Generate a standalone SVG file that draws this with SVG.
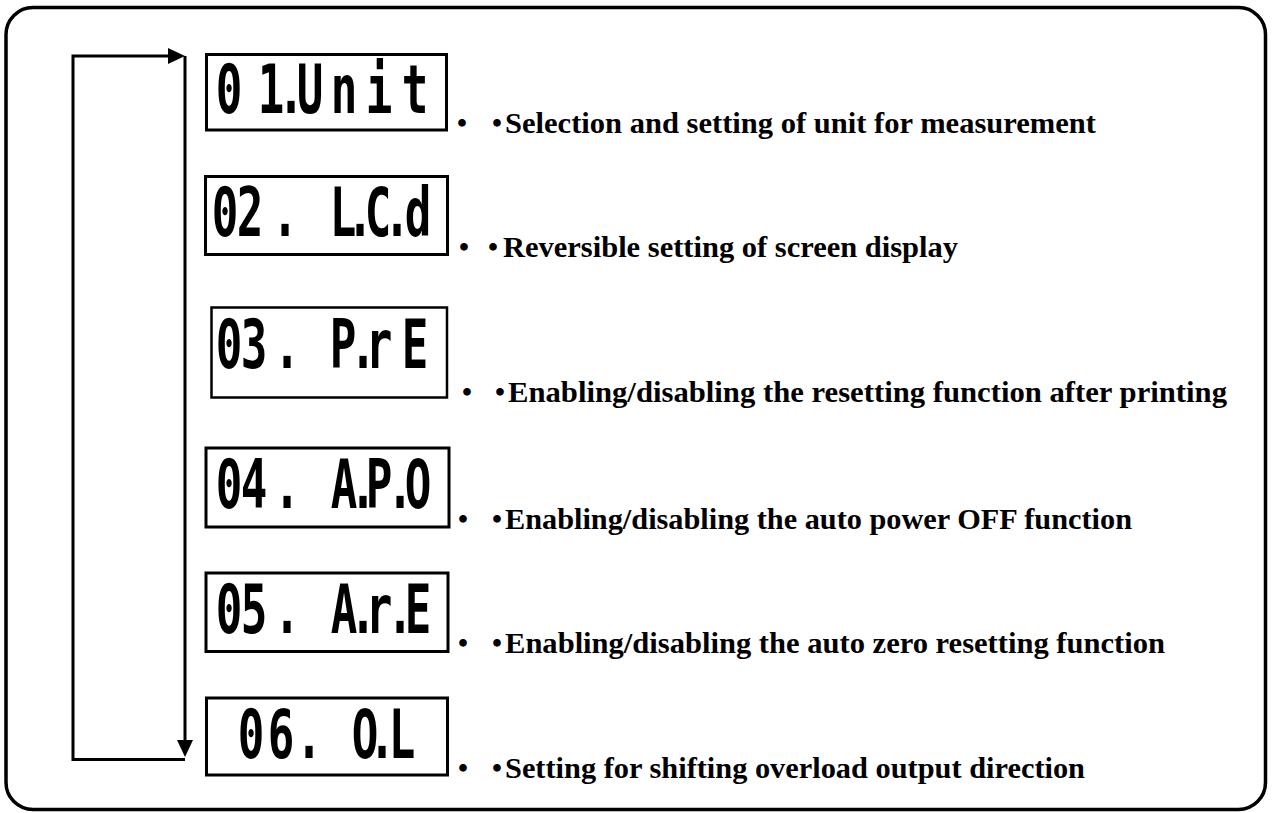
<svg xmlns="http://www.w3.org/2000/svg" width="1272" height="813" viewBox="0 0 1272 813">
<defs>
<style>
.frame{fill:none;stroke:#000;stroke-width:3.5}
.lcdbox{fill:#fff;stroke:#000;stroke-width:3}
.lcd{font-family:"DejaVu Sans Mono","Liberation Mono",monospace;font-weight:bold;font-size:68px;fill:#000;text-anchor:middle}
.desc{font-family:"Liberation Serif","Times New Roman",serif;font-weight:bold;font-size:30px;fill:#000}
.dot{font-family:"Noto Sans CJK JP",sans-serif;font-size:36px;fill:#000;text-anchor:middle}
.conn{fill:none;stroke:#000;stroke-width:3;stroke-linejoin:miter}
</style>
<marker id="ah" markerUnits="userSpaceOnUse" markerWidth="17" markerHeight="16" refX="0" refY="8" orient="auto" viewBox="0 0 17 16"><path d="M0,0 L17,8 L0,16 z" fill="#000"/></marker>
</defs>
<rect width="1272" height="813" fill="#fff"/>
<rect id="frame" class="frame" x="6" y="7.5" width="1259.5" height="802" rx="27" ry="27"/>

<g id="connectors">
<path class="conn" d="M185,759.5 H73 V56 H168" marker-end="url(#ah)"/>
<path class="conn" d="M185,56 V740" marker-end="url(#ah)"/>
</g>

<g id="n01">
<rect class="lcdbox" x="206.5" y="54.5" width="240" height="75.5"/>
<text class="lcd" transform="scale(0.65 1)" x="352.3 416.9 447.7 476.9 529.2 583.1 638.5" y="113">01.Unit</text>
<text class="dot" x="462 497" y="136.5">・・</text>
<text class="desc" x="505" y="133" textLength="591" lengthAdjust="spacingAndGlyphs">Selection and setting of unit for measurement</text>
</g>

<g id="n02">
<rect class="lcdbox" x="205.5" y="176.5" width="242" height="78"/>
<text class="lcd" transform="scale(0.65 1)" x="346.2 384.6 438.5 484.6 527.7 553.8 581.5 610.8 643.1" y="236">02. L.C.d</text>
<text class="dot" x="464 493" y="260.5">・・</text>
<text class="desc" x="503" y="257" textLength="455" lengthAdjust="spacingAndGlyphs">Reversible setting of screen display</text>
</g>

<g id="n03">
<rect class="lcdbox" x="211.5" y="307.5" width="235.5" height="90" style="stroke-width:2.5"/>
<text class="lcd" transform="scale(0.65 1)" x="352.3 390.8 441.5 484.6 527.7 558.5 583.1 638.5" y="368">03. P.rE</text>
<text class="dot" x="467 500" y="405.5">・・</text>
<text class="desc" x="508" y="402" textLength="719" lengthAdjust="spacingAndGlyphs">Enabling/disabling the resetting function after printing</text>
</g>

<g id="n04">
<rect class="lcdbox" x="206" y="448" width="243" height="79"/>
<text class="lcd" transform="scale(0.65 1)" x="352.3 390.8 441.5 484.6 529.2 558.5 583.1 615.4 643.1" y="508">04. A.P.O</text>
<text class="dot" x="463 497" y="532.5">・・</text>
<text class="desc" x="505" y="529" textLength="627" lengthAdjust="spacingAndGlyphs">Enabling/disabling the auto power OFF function</text>
</g>

<g id="n05">
<rect class="lcdbox" x="206" y="573" width="242" height="78.5"/>
<text class="lcd" transform="scale(0.65 1)" x="352.3 390.8 441.5 484.6 529.2 558.5 583.1 615.4 643.1" y="633">05. A.r.E</text>
<text class="dot" x="463 497" y="656.5">・・</text>
<text class="desc" x="505" y="653" textLength="660" lengthAdjust="spacingAndGlyphs">Enabling/disabling the auto zero resetting function</text>
</g>

<g id="n06">
<rect class="lcdbox" x="206.5" y="698" width="241" height="77"/>
<text class="lcd" transform="scale(0.65 1)" x="386.2 432.3 475.4 507.7 561.5 587.7 618.5" y="758">06. O.L</text>
<text class="dot" x="463 497" y="781.5">・・</text>
<text class="desc" x="505" y="778" textLength="580" lengthAdjust="spacingAndGlyphs">Setting for shifting overload output direction</text>
</g>
</svg>
